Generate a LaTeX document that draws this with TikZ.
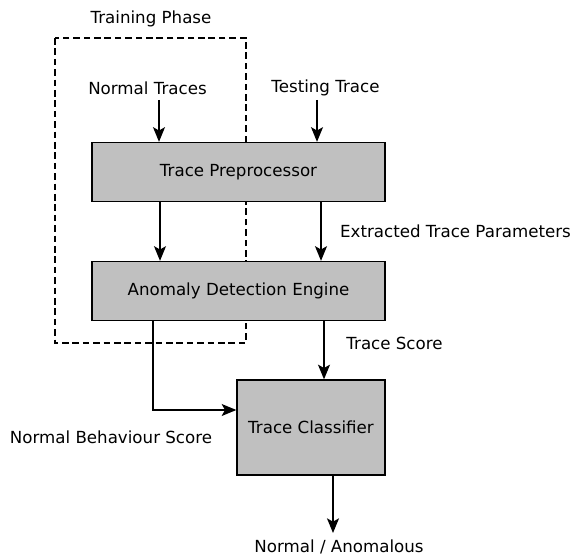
\documentclass[tikz,border=0pt]{standalone}
\usepackage{fontspec}
\setmainfont{DejaVu Sans}
\usetikzlibrary{arrows.meta}
\definecolor{boxgray}{HTML}{C0C0C0}
\begin{document}
\begin{tikzpicture}[x=0.75pt,y=-0.75pt,
  font=\fontsize{12.5}{14}\selectfont,
  box/.style={draw, line width=1pt, fill=boxgray, inner sep=0pt},
  lbl/.style={inner sep=0pt, anchor=center},
  arr/.style={line width=1pt, -{Stealth[length=11pt, width=9pt, inset=2.5pt]}},
  phase/.style={draw, line width=0.9pt, dash pattern=on 5pt off 2.8pt}]
\useasboundingbox (0,0) rectangle (573,555);
% dashed training region
\draw[phase] (55,38) rectangle (246,343);
% boxes
\node[box, minimum width=219.75pt, minimum height=44.25pt] (tp) at (238.5,172) {Trace Preprocessor};
\node[box, minimum width=219.75pt, minimum height=44.25pt] (ade) at (238.5,291) {Anomaly Detection Engine};
\node[box, minimum width=111pt, minimum height=71.25pt] (tc) at (311,427.5) {Trace Classifier};
% labels
\node[lbl] (phl) at (151,19) {Training Phase};
\node[lbl] (nt) at (147.5,88) {Normal Traces};
\node[lbl] (tt) at (325.5,88) {Testing Trace};
\node[lbl] (etp) at (455.5,231) {Extracted Trace Parameters};
\node[lbl] (ts) at (394.5,343) {Trace Score};
\node[lbl] (nbs) at (111,437) {Normal Behaviour Score};
\node[lbl] (out) at (339,547) {Normal / Anomalous};
% helper coordinates
\coordinate (xa) at (159,0);
\coordinate (xb) at (317,0);
\coordinate (xc) at (160,0);
\coordinate (xd) at (321,0);
\coordinate (xe) at (153,0);
\coordinate (xf) at (324,0);
\coordinate (xg) at (333,0);
\coordinate (ytop) at (0,100);
\coordinate (ybend) at (0,410);
\coordinate (yend) at (0,533);
% connectors
\draw[arr] (ytop -| xa) -- (tp.north -| xa);
\draw[arr] (ytop -| xb) -- (tp.north -| xb);
\draw[arr] (tp.south -| xc) -- (ade.north -| xc);
\draw[arr] (tp.south -| xd) -- (ade.north -| xd);
\draw[arr] (ade.south -| xf) -- (tc.north -| xf);
\draw[arr] (ade.south -| xe) |- (tc.west |- ybend);
\draw[arr] (tc.south -| xg) -- (yend -| xg);
\end{tikzpicture}
\end{document}
